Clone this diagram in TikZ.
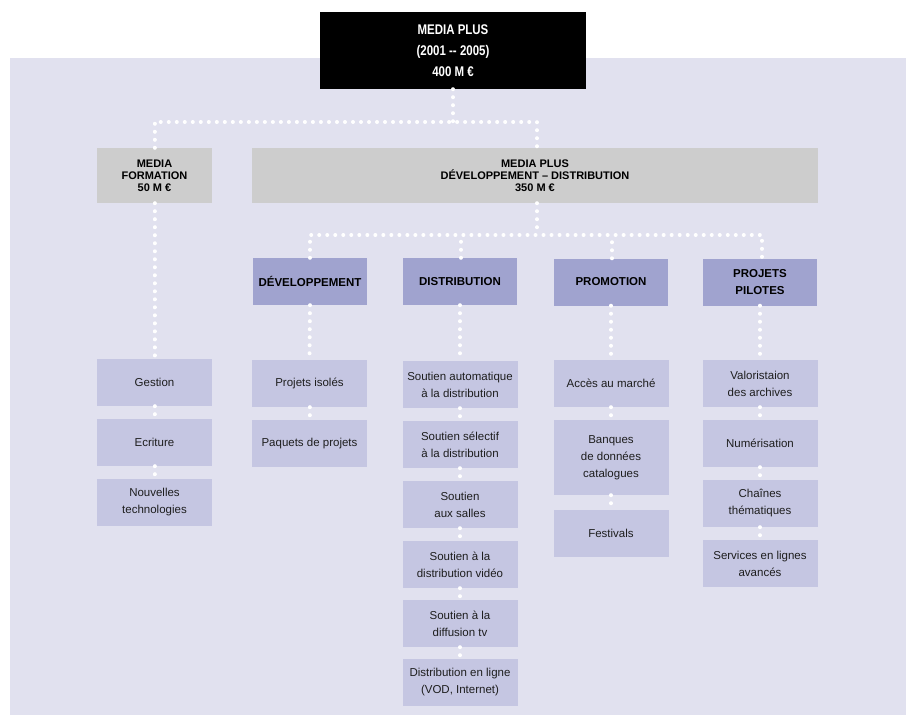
\documentclass[tikz,border=0pt]{standalone}
\usepackage{fontspec}
\setmainfont{Liberation Sans}
\newfontfamily\headcond[FakeStretch=0.82]{Liberation Sans}
\definecolor{bgc}{HTML}{E1E1EF}
\definecolor{grayc}{HTML}{CDCDCD}
\definecolor{lvtwo}{HTML}{A0A3CF}
\definecolor{lvthree}{HTML}{C5C6E2}
\definecolor{txt}{HTML}{1E1E1E}
\tikzset{
  topbox/.style={fill=black, text=white, inner sep=0pt, minimum width=266pt, minimum height=77pt, align=center, font=\headcond\bfseries\fontsize{14}{21}\selectfont},
  graybox/.style={fill=grayc, text=black, inner sep=0pt, minimum height=55pt, align=center, font=\bfseries\fontsize{11}{12}\selectfont},
  lvtwobox/.style={fill=lvtwo, text=black, inner sep=0pt, minimum width=114pt, minimum height=47pt, align=center, font=\bfseries\fontsize{11.5}{17}\selectfont},
  leafbox/.style={fill=lvthree, text=txt, inner sep=0pt, minimum width=115pt, minimum height=47pt, align=center, font=\fontsize{11.5}{17}\selectfont},
  dots/.style={draw=white, line width=4pt, line cap=round, dash pattern=on 0.01pt off 8pt},
}
\begin{document}
\begin{tikzpicture}[x=1pt,y=-1pt]
\useasboundingbox (0,0) rectangle (906,715);
\fill[bgc] (10,58) rectangle (906,715);

% top
\node[topbox] (top) at (453,50.5) {MEDIA PLUS\\(2001 -- 2005)\\400 M €};
% level 1
\node[graybox, minimum width=115pt] (mf) at (154.5,175.5) {MEDIA\\FORMATION\\50 M €};
\node[graybox, minimum width=566pt] (mpdd) at (535,175.5) {MEDIA PLUS\\DÉVELOPPEMENT -- DISTRIBUTION\\350 M €};
% level 2
\node[lvtwobox] (dev) at (310,281.5) {DÉVELOPPEMENT};
\node[lvtwobox] (dist) at (460,281.5) {DISTRIBUTION};
\node[lvtwobox] (prom) at (611,282) {PROMOTION};
\node[lvtwobox] (pp) at (760,282) {PROJETS\\PILOTES};
% leaves col 1
\node[leafbox] (g1) at (154.5,382.5) {Gestion};
\node[leafbox] (g2) at (154.5,442.5) {Ecriture};
\node[leafbox] (g3) at (154.5,502.5) {Nouvelles\\technologies};
% col 2
\node[leafbox] (d1) at (309.5,383.5) {Projets isolés};
\node[leafbox] (d2) at (309.5,443.5) {Paquets de projets};
% col 3
\node[leafbox] (s1) at (460,384.5) {Soutien automatique\\à la distribution};
\node[leafbox] (s2) at (460,444.5) {Soutien sélectif\\à la distribution};
\node[leafbox] (s3) at (460,504.5) {Soutien\\aux salles};
\node[leafbox] (s4) at (460,564.5) {Soutien à la\\distribution vidéo};
\node[leafbox] (s5) at (460,623.5) {Soutien à la\\diffusion tv};
\node[leafbox] (s6) at (460,682.5) {Distribution en ligne\\(VOD, Internet)};
% col 4
\node[leafbox] (p1) at (611,383.5) {Accès au marché};
\node[leafbox, minimum height=75pt] (p2) at (611,457.5) {Banques\\de données\\catalogues};
\node[leafbox] (p3) at (611,533.5) {Festivals};
% col 5
\node[leafbox] (v1) at (760,383.5) {Valoristaion\\des archives};
\node[leafbox] (v2) at (760,443.5) {Numérisation};
\node[leafbox] (v3) at (760,503.5) {Chaînes\\thématiques};
\node[leafbox] (v4) at (760,563.5) {Services en lignes\\avancés};

% connectors
\coordinate (j1) at (453,122);
\coordinate (j2) at (537,235);
\draw[dots] (top.south) -- (j1);
\draw[dots] (mf.north) |- (j1) -| ([xshift=2pt]mpdd.north);
\draw[dots] ([xshift=2pt]mpdd.south) -- (j2);
\draw[dots] (dev.north) |- (j2) -| ([xshift=2pt]pp.north);
\draw[dots] ([xshift=1pt]dist.north) -- ([xshift=1pt]dist.north |- j2);
\draw[dots] ([xshift=1pt]prom.north) -- ([xshift=1pt]prom.north |- j2);

\draw[dots] (mf.south) -- (g1.north);
\draw[dots] (g1.south) -- (g2.north);
\draw[dots] (g2.south) -- (g3.north);

\draw[dots] (dev.south) -- (d1.north);
\draw[dots] (d1.south) -- (d2.north);

\draw[dots] (dist.south) -- (s1.north);
\draw[dots] (s1.south) -- (s2.north);
\draw[dots] (s2.south) -- (s3.north);
\draw[dots] (s3.south) -- (s4.north);
\draw[dots] (s4.south) -- (s5.north);
\draw[dots] (s5.south) -- (s6.north);

\draw[dots] (prom.south) -- (p1.north);
\draw[dots] (p1.south) -- (p2.north);
\draw[dots] (p2.south) -- (p3.north);

\draw[dots] (pp.south) -- (v1.north);
\draw[dots] (v1.south) -- (v2.north);
\draw[dots] (v2.south) -- (v3.north);
\draw[dots] (v3.south) -- (v4.north);
\end{tikzpicture}
\end{document}
